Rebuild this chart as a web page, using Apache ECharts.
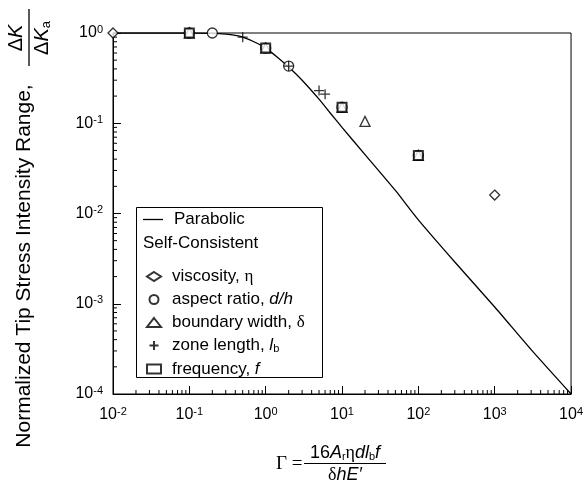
<!DOCTYPE html>
<html>
<head>
<meta charset="utf-8">
<script src="https://cdn.jsdelivr.net/npm/echarts@6/dist/echarts.min.js"></script>
<style>html,body{margin:0;padding:0;background:#fff}#c{width:586px;height:487px}</style>
</head>
<body>
<div id="c"></div>
<script>
// ---- data ----
var parabolicX = [0.01, 0.1, 0.2, 0.3, 0.4, 0.5, 0.7, 1, 1.5, 2, 3, 5, 7, 10, 20, 50, 100, 300, 1000, 3000, 10000];
var parabolicY = [1, 1, 0.99, 0.97, 0.94, 0.9, 0.8, 0.68, 0.52, 0.42, 0.3, 0.185, 0.13, 0.09, 0.045, 0.018, 0.0085, 0.0029, 0.00092, 0.00031, 0.0001];
var viscosityX = [0.01, 1000];
var viscosityY = [1, 0.016];
var aspectX = [0.2, 2, 0.1, 1, 10, 100];
var aspectY = [1, 0.43, 1, 0.68, 0.15, 0.044];
var boundaryX = [20, 0.1, 1, 10, 100];
var boundaryY = [0.105, 1, 0.68, 0.15, 0.044];
var zoneX = [0.5, 5, 6, 2];
var zoneY = [0.9, 0.23, 0.21, 0.43];
var freqX = [0.1, 1, 10, 100];
var freqY = [1, 0.68, 0.15, 0.044];
var xTickExps = ['-2', '-1', '0', '1', '2', '3', '4'];
var yTickExps = ['-4', '-3', '-2', '-1', '0'];
var xMinorDecades = [-2, -1, 0, 1, 2, 3];
var yMinorDecades = [-4, -3, -2, -1];
var minorMult = [2, 3, 4, 5, 6, 7, 8, 9];

function pairs(xs, ys) { return xs.map(function (x, i) { return [x, ys[i]]; }); }
function expOf(v) { return String(Math.round(Math.log(v) / Math.LN10)); }

var xMinor = [], yMinor = [];
xMinorDecades.forEach(function (d) { minorMult.forEach(function (m) { xMinor.push([m * Math.pow(10, d), 1e-4]); }); });
yMinorDecades.forEach(function (d) { minorMult.forEach(function (m) { yMinor.push([0.01, m * Math.pow(10, d)]); }); });

var SANS = 'Liberation Sans';
var SERIF = 'Liberation Serif';
var tickRich = {
  b: { fontFamily: SANS, fontSize: 16, color: '#000', lineHeight: 18 },
  s: { fontFamily: SANS, fontSize: 11, color: '#000', lineHeight: 18, verticalAlign: 'top', padding: [0, 0, 7, 0] }
};
var legendRich = {
  t: { fontFamily: SANS, fontSize: 17, color: '#000', lineHeight: 18 },
  i: { fontFamily: SANS, fontSize: 17, fontStyle: 'italic', color: '#000', lineHeight: 18 },
  g: { fontFamily: SERIF, fontSize: 17, color: '#000', lineHeight: 18 },
  sub: { fontFamily: SANS, fontSize: 11, color: '#000', lineHeight: 18, verticalAlign: 'bottom', padding: [6, 0, 0, 0] }
};
var legendText = {
  'Parabolic': '{t|Parabolic}',
  'viscosity': '{t|viscosity, }{g|η}',
  'aspect ratio': '{t|aspect ratio, }{i|d/h}',
  'boundary width': '{t|boundary width, }{g|δ}',
  'zone length': '{t|zone length, }{i|l}{sub|b}',
  'frequency': '{t|frequency, }{i|f}'
};

var plusPath = 'path://M0,5L10,5M5,0L5,10';
function scatter(name, xs, ys, symbol, size, bw) {
  return {
    name: name, type: 'scatter', data: pairs(xs, ys), symbol: symbol, symbolSize: size,
    clip: false, z: 5,
    itemStyle: { color: '#fff', borderColor: '#000', borderWidth: bw || 1.3 }
  };
}
function minorSeries(data, horizontal) {
  return {
    type: 'custom', data: data, silent: true, clip: false, z: 3,
    renderItem: function (params, api) {
      var p = api.coord([api.value(0), api.value(1)]);
      var shape = horizontal ? { x1: p[0], y1: p[1], x2: p[0] + 4, y2: p[1] }
                             : { x1: p[0], y1: p[1], x2: p[0], y2: p[1] - 4 };
      return { type: 'line', shape: shape, style: { stroke: '#000', lineWidth: 1 } };
    }
  };
}

var chart = echarts.init(document.getElementById('c'), null, { renderer: 'canvas' });
chart.setOption({
  animation: false,
  backgroundColor: '#fff',
  grid: { left: 113, right: 14, top: 33, bottom: 93, show: true, borderColor: '#000', borderWidth: 1 },
  xAxis: {
    type: 'log', logBase: 10, min: 0.01, max: 10000,
    axisLine: { lineStyle: { color: '#000', width: 1 } },
    axisTick: { inside: true, length: 8, lineStyle: { color: '#000' } },
    splitLine: { show: false },
    axisLabel: {
      margin: 12, color: '#000',
      formatter: function (v) { var e = expOf(v); return xTickExps.indexOf(e) >= 0 ? '{b|10}{s|' + e + '}' : ''; },
      rich: tickRich
    }
  },
  yAxis: {
    type: 'log', logBase: 10, min: 0.0001, max: 1,
    axisLine: { lineStyle: { color: '#000', width: 1 } },
    axisTick: { inside: true, length: 8, lineStyle: { color: '#000' } },
    splitLine: { show: false },
    axisLabel: {
      margin: 10, color: '#000',
      formatter: function (v) { var e = expOf(v); return yTickExps.indexOf(e) >= 0 ? '{b|10}{s|' + e + '}' : ''; },
      rich: tickRich
    }
  },
  legend: [
    {
      data: [{ name: 'Parabolic', icon: 'rect' }], orient: 'vertical', left: 143, top: 211, padding: 0,
      itemWidth: 20, itemHeight: 1.3,
      formatter: function (n) { return legendText[n]; },
      textStyle: { rich: legendRich, padding: [0, 0, 0, 6] }, selectedMode: false
    },
    {
      data: ['viscosity', 'aspect ratio', 'boundary width', 'zone length', 'frequency'],
      orient: 'vertical', left: 146, top: 268, padding: 0, itemWidth: 14, itemHeight: 9, itemGap: 6,
      formatter: function (n) { return legendText[n]; },
      textStyle: { rich: legendRich, padding: [0, 0, 0, 6] }, selectedMode: false
    }
  ],
  series: [
    {
      name: 'Parabolic', type: 'line', data: pairs(parabolicX, parabolicY), symbol: 'none', smooth: 0.2,
      lineStyle: { color: '#000', width: 1.3 }, itemStyle: { color: '#000' }, z: 4
    },
    scatter('viscosity', viscosityX, viscosityY, 'diamond', 10),
    scatter('aspect ratio', aspectX, aspectY, 'circle', 10),
    scatter('boundary width', boundaryX, boundaryY, 'triangle', 10),
    scatter('zone length', zoneX, zoneY, plusPath, 10),
    scatter('frequency', freqX, freqY, 'rect', 9, 2),
    minorSeries(xMinor, false),
    minorSeries(yMinor, true)
  ],
  graphic: [
    { type: 'rect', shape: { x: 136.5, y: 207.5, width: 186, height: 170 }, style: { fill: 'rgba(0,0,0,0)', stroke: '#000', lineWidth: 1 }, z: 10 },
    { type: 'text', left: 143, top: 235, style: { text: 'Self-Consistent', font: '17px "Liberation Sans"', fill: '#000' }, z: 11 },
    {
      type: 'group', x: 24, y: 266, rotation: Math.PI / 2,
      children: [
        { type: 'text', x: 0, y: 0, style: { text: 'Normalized Tip Stress Intensity Range,', font: '21px "Liberation Sans"', fill: '#000', align: 'center', verticalAlign: 'middle' } },
        { type: 'text', x: 228, y: -8, style: { text: '{g|Δ}{i|K}', rich: { g: { fontFamily: SANS, fontSize: 20, fill: '#000' }, i: { fontFamily: SANS, fontSize: 20, fontStyle: 'italic', fill: '#000' } }, align: 'center', verticalAlign: 'middle' } },
        { type: 'line', shape: { x1: 200, y1: 5, x2: 257, y2: 5 }, style: { stroke: '#000', lineWidth: 1.3 } },
        { type: 'text', x: 228, y: 18, style: { text: '{g|Δ}{i|K}{sub|a}', rich: { g: { fontFamily: SANS, fontSize: 20, fill: '#000' }, i: { fontFamily: SANS, fontSize: 20, fontStyle: 'italic', fill: '#000' }, sub: { fontFamily: SANS, fontSize: 13, fill: '#000', padding: [8, 0, 0, 0] } }, align: 'center', verticalAlign: 'middle' } }
      ]
    },
    { type: 'text', x: 276, y: 464, style: { text: 'Γ =', font: '19px "Liberation Serif"', fill: '#000', verticalAlign: 'middle' } },
    {
      type: 'text', x: 345, y: 453,
      style: {
        text: '{t|16}{i|A}{sub|r}{g|η}{i|dl}{sub|b}{i|f}', align: 'center', verticalAlign: 'middle',
        rich: {
          t: { fontFamily: SANS, fontSize: 18, fill: '#000' },
          i: { fontFamily: SANS, fontSize: 18, fontStyle: 'italic', fill: '#000' },
          g: { fontFamily: SERIF, fontSize: 18, fill: '#000' },
          sub: { fontFamily: SANS, fontSize: 11, fill: '#000', padding: [8, 0, 0, 0] }
        }
      }
    },
    { type: 'line', shape: { x1: 304, y1: 463.5, x2: 386, y2: 463.5 }, style: { stroke: '#000', lineWidth: 1 } },
    {
      type: 'text', x: 345, y: 475,
      style: {
        text: '{g|δ}{i|hE′}', align: 'center', verticalAlign: 'middle',
        rich: {
          i: { fontFamily: SANS, fontSize: 18, fontStyle: 'italic', fill: '#000' },
          g: { fontFamily: SERIF, fontSize: 18, fill: '#000' }
        }
      }
    }
  ]
});
</script>
</body>
</html>
